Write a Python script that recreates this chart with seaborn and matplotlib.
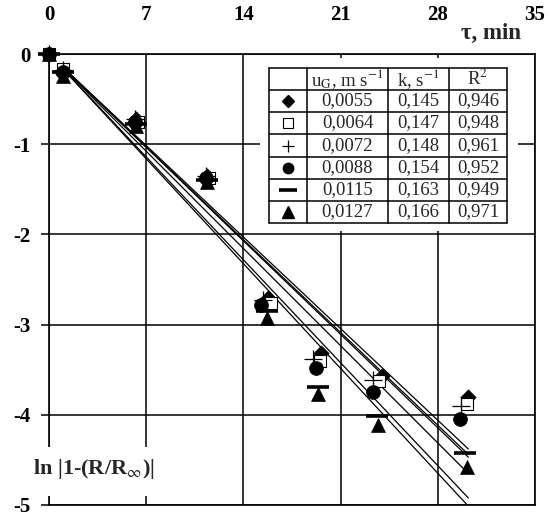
import numpy as np
import pandas as pd
import matplotlib
matplotlib.use("Agg")
import matplotlib.pyplot as plt
import seaborn as sns
from matplotlib.patches import Rectangle
from matplotlib.lines import Line2D

# ---------------- data ----------------
x_ticks = [0, 7, 14, 21, 28, 35]
y_ticks = [0, -1, -2, -3, -4, -5]
y_tick_labels = ["0", "-1", "-2", "-3", "-4", "-5"]

ug_labels = ["0,0055", "0,0064", "0,0072", "0,0088", "0,0115", "0,0127"]
k_labels = ["0,145", "0,147", "0,148", "0,154", "0,163", "0,166"]
r2_labels = ["0,946", "0,948", "0,961", "0,952", "0,949", "0,971"]
k_vals = [0.145, 0.147, 0.148, 0.154, 0.163, 0.166]
fit_t = [1.0, 30.2]

t_diamond = [0, 1.0, 6.3, 11.4, 15.8, 19.6, 24.0, 30.2]
y_diamond = [0, -0.22, -0.72, -1.35, -2.70, -3.31, -3.57, -3.80]
t_square = [0, 1.0, 6.4, 11.5, 16.0, 19.5, 23.8, 30.1]
y_square = [0, -0.17, -0.75, -1.37, -2.76, -3.40, -3.62, -3.88]
t_plus = [0, 1.0, 6.2, 11.3, 15.4, 19.0, 23.3, 29.7]
y_plus = [0, -0.18, -0.72, -1.35, -2.73, -3.38, -3.61, -3.90]
t_circle = [0, 1.0, 6.2, 11.3, 15.3, 19.2, 23.3, 29.6]
y_circle = [0, -0.20, -0.75, -1.38, -2.78, -3.48, -3.75, -4.05]
t_bar = [0, 1.0, 6.3, 11.4, 15.7, 19.4, 23.6, 29.95]
y_bar = [0, -0.20, -0.78, -1.40, -2.85, -3.69, -4.01, -4.42]
t_tri = [0, 1.0, 6.3, 11.4, 15.7, 19.4, 23.7, 30.1]
y_tri = [0, -0.24, -0.80, -1.42, -2.93, -3.77, -4.11, -4.58]

series_t = [t_diamond, t_square, t_plus, t_circle, t_bar, t_tri]
series_y = [y_diamond, y_square, y_plus, y_circle, y_bar, y_tri]

# ---------------- style ----------------
sns.set_theme(style="white")
plt.rcParams["font.family"] = ["Liberation Serif", "DejaVu Serif"]
plt.rcParams["mathtext.fontset"] = "stix"

W, H = 549, 516
fig = plt.figure(figsize=(W / 100, H / 100), dpi=100)
fig.patch.set_facecolor("white")


def fx(px):
    return px / W


def fy(py):
    return 1 - py / H


ax_l, ax_r, ax_t, ax_b = 49, 535, 54, 505
ax = fig.add_axes([fx(ax_l), fy(ax_b), (ax_r - ax_l) / W, (ax_b - ax_t) / H])
ax.set_facecolor("white")

# styles per series (marker, size, filled)
styles = [
    dict(marker="D", s=60, color="black", edgecolor="black", linewidth=0.5),
    dict(marker="s", s=85, color="white", edgecolor="black", linewidth=0.8),
    dict(marker="+", s=160, color="black", linewidth=0.9),
    dict(marker="o", s=100, color="black", edgecolor="black", linewidth=0.5),
    dict(marker="_", s=260, color="black", linewidth=2.6),
    dict(marker="^", s=100, color="black", edgecolor="black", linewidth=0.5),
]

# fit lines
for k in k_vals:
    df_line = pd.DataFrame({"t": fit_t, "y": [-k * t for t in fit_t]})
    sns.lineplot(data=df_line, x="t", y="y", ax=ax, color="black", lw=0.9,
                 zorder=3, legend=False)

# data points
for i, (ts, ys) in enumerate(zip(series_t, series_y)):
    df = pd.DataFrame({"t": ts, "y": ys})
    sty = styles[i]
    sns.scatterplot(data=df, x="t", y="y", ax=ax, zorder=4 + i, clip_on=False,
                    legend=False, **sty)

ax.set_xlim(0, 35)
ax.set_ylim(-5, 0)
ax.set_xlabel("")
ax.set_ylabel("")
ax.xaxis.tick_top()
ax.set_xticks(x_ticks)
ax.set_xticklabels([str(v) for v in x_ticks], fontsize=15, fontweight="bold")
ax.set_yticks(y_ticks)
ax.set_yticklabels(y_tick_labels, fontsize=15, fontweight="bold")
ax.tick_params(axis="x", length=0, pad=21, colors="black")
ax.tick_params(axis="y", length=6, width=1.1, direction="out", pad=7,
               colors="black", left=True)
ax.grid(True, color="black", lw=1.1)
for sp in ax.spines.values():
    sp.set_visible(True)
    sp.set_color("black")
    sp.set_linewidth(1.2)

# axis titles
fig.text(fx(521), fy(33), "τ, min", ha="right", va="center",
         fontsize=16.5, fontweight="bold", zorder=10)

fig.add_artist(Rectangle((fx(28), fy(496)), (168 - 28) / W, (496 - 447) / H,
                         transform=fig.transFigure, facecolor="white",
                         edgecolor="none", zorder=8))
fig.text(fx(33), fy(469), r"ln |1-(R/R$_{\infty}$)|", ha="left", va="center",
         fontsize=16, fontweight="bold", zorder=10)

# ---------------- table ----------------
fig.add_artist(Rectangle((fx(260), fy(231)), (518 - 260) / W, (231 - 58) / H,
                         transform=fig.transFigure, facecolor="white",
                         edgecolor="none", zorder=8))
col_x = [269, 307, 388, 449, 507]
row_y = [68, 90, 112, 134, 157, 179, 201, 223]
for cx in col_x:
    fig.add_artist(Line2D([fx(cx), fx(cx)], [fy(row_y[0]), fy(row_y[-1])],
                          transform=fig.transFigure, color="black", lw=1.1,
                          zorder=9))
for ry in row_y:
    fig.add_artist(Line2D([fx(col_x[0]), fx(col_x[-1])], [fy(ry), fy(ry)],
                          transform=fig.transFigure, color="black", lw=1.1,
                          zorder=9))

col_c = [(col_x[j] + col_x[j + 1]) / 2 for j in range(4)]
row_c = [(row_y[j] + row_y[j + 1]) / 2 for j in range(7)]
headers = [r"u$_{\mathrm{G}}$, m s$^{\mathrm{-1}}$", r"k, s$^{\mathrm{-1}}$", r"R$^{\mathrm{2}}$"]
for j, h in enumerate(headers):
    fig.text(fx(col_c[j + 1]), fy(row_c[0]), h, ha="center", va="center",
             fontsize=13.5, zorder=10)

leg_styles = [
    dict(marker="D", ms=6.5, mfc="black", mec="black"),
    dict(marker="s", ms=7, mfc="white", mec="black", mew=0.8),
    dict(marker="+", ms=9, mec="black", mew=0.9),
    dict(marker="o", ms=7.5, mfc="black", mec="black"),
    dict(marker="_", ms=13, mec="black", mew=2.6),
    dict(marker="^", ms=8.5, mfc="black", mec="black"),
]
for i in range(6):
    yc = fy(row_c[i + 1])
    fig.add_artist(Line2D([fx(col_c[0])], [yc], transform=fig.transFigure,
                          linestyle="none", zorder=10, **leg_styles[i]))
    for j, txt in enumerate([ug_labels[i], k_labels[i], r2_labels[i]]):
        fig.text(fx(col_c[j + 1]), yc, txt, ha="center", va="center",
                 fontsize=13.5, zorder=10)

fig.savefig("out.png", dpi=100, facecolor="white")
